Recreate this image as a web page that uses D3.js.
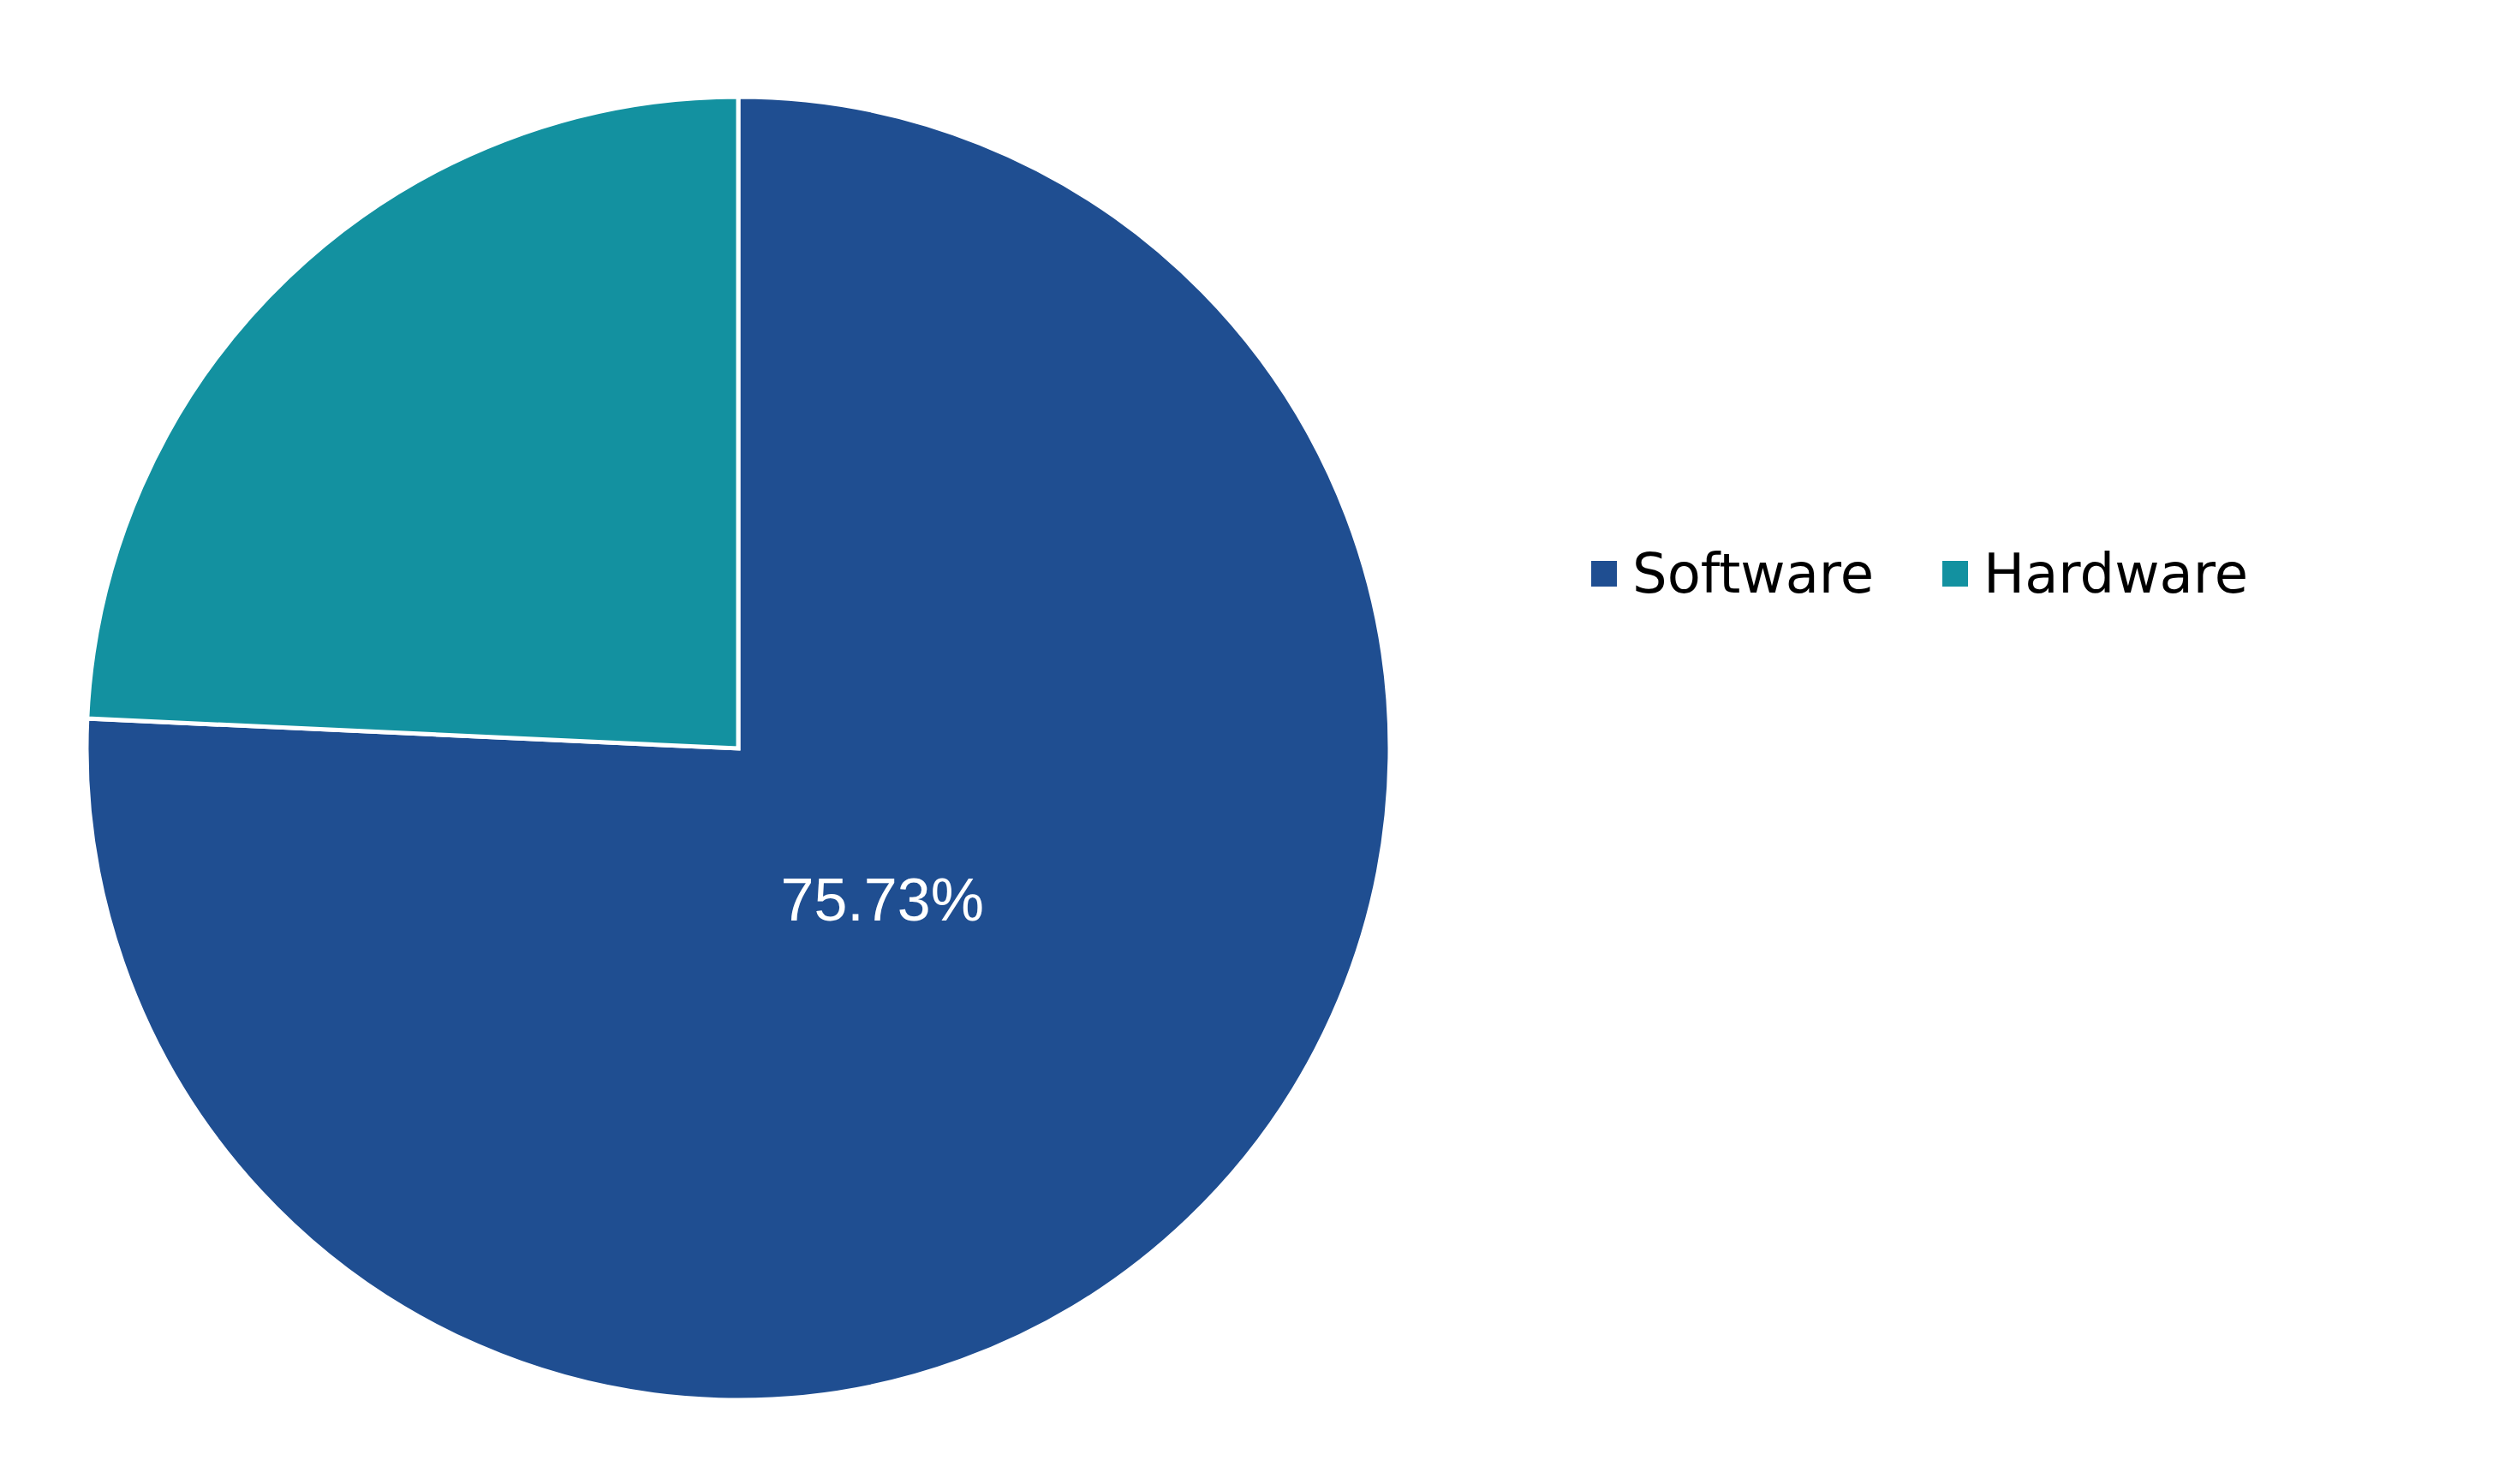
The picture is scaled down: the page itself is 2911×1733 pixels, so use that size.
<!DOCTYPE html>
<html><head><meta charset="utf-8">
<script src="https://cdn.jsdelivr.net/npm/d3@7"></script>
<style>body{margin:0;background:#fff}</style>
</head><body>
<script>
const categories = ["Software", "Hardware"];
const values = [75.73, 24.27];
const colors = ["#1F4E91", "#1391A0"];

const W = 2911, H = 1733;
const svg = d3.select("body").append("svg").attr("width", W).attr("height", H);
const cx = 862, cy = 874, R = 761;
const pie = d3.pie().sort(null).value(d => d.v);
const data = pie(categories.map((c, i) => ({c, v: values[i]})));
const arc = d3.arc().innerRadius(0).outerRadius(R);
const labelArc = d3.arc().innerRadius(0).outerRadius(R * 0.64);
const g = svg.append("g").attr("transform", `translate(${cx},${cy})`);
g.selectAll("path").data(data).join("path")
  .attr("d", arc).attr("fill", (d, i) => colors[i])
  .attr("stroke", "#fff").attr("stroke-width", 5);
g.append("text").datum(data[0])
  .attr("transform", d => `translate(${labelArc.centroid(d)})`)
  .attr("text-anchor", "middle").attr("dy", "0.35em")
  .attr("font-family", "Liberation Sans, Arial, sans-serif")
  .attr("font-size", 70).attr("fill", "#fff")
  .text(d => d.data.v.toFixed(2) + "%");

const legX = [1858, 2268];
const leg = svg.append("g");
categories.forEach((c, i) => {
  leg.append("rect").attr("x", legX[i]).attr("y", 655).attr("width", 30).attr("height", 30).attr("fill", colors[i]);
  leg.append("text").attr("x", legX[i] + 48).attr("y", 670).attr("dy", "0.35em")
    .attr("font-family", "DejaVu Sans, Verdana, sans-serif").attr("font-size", 64)
    .attr("fill", "#000").text(c);
});
</script>
</body></html>
